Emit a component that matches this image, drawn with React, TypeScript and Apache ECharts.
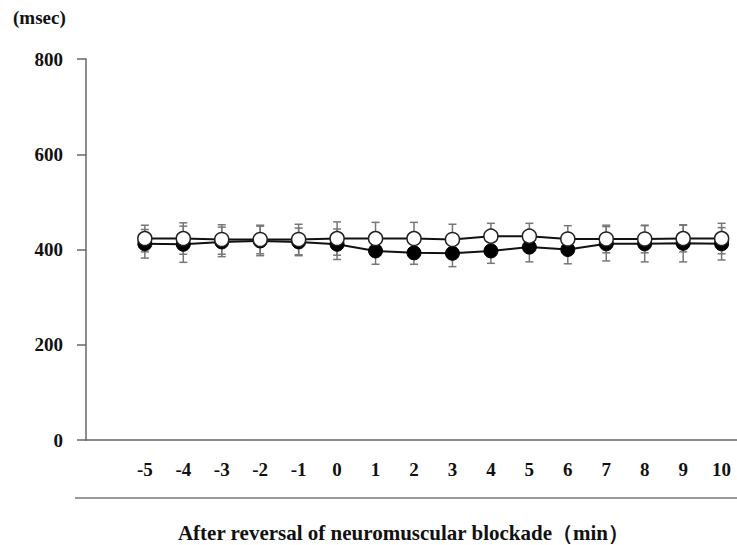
import React, { useEffect, useRef } from "react";
import * as echarts from "echarts";

const minutes = [-5, -4, -3, -2, -1, 0, 1, 2, 3, 4, 5, 6, 7, 8, 9, 10];
const openMean = [423, 423, 421, 421, 421, 423, 423, 423, 421, 428, 428, 422, 422, 422, 423, 423];
const openErr = [28, 33, 31, 30, 32, 35, 34, 34, 32, 27, 27, 28, 29, 29, 28, 32];
const filledMean = [412, 411, 416, 418, 416, 411, 397, 393, 392, 397, 405, 400, 412, 412, 413, 412];
const filledErr = [30, 38, 31, 31, 29, 32, 28, 24, 28, 26, 31, 30, 36, 38, 39, 34];
const yTicks = [0, 200, 400, 600, 800];

const FONT = "'Liberation Serif', 'Times New Roman', serif";

function errSeries(mean: number[], err: number[]) {
  return {
    type: "custom",
    z: 1,
    silent: true,
    data: minutes.map((m, i) => [m, mean[i], err[i]]),
    encode: { x: 0, y: 1 },
    renderItem: (params: any, api: any) => {
      const x = api.value(0);
      const v = api.value(1);
      const e = api.value(2);
      const top = api.coord([x, v + e]);
      const bot = api.coord([x, v - e]);
      const cw = 4;
      const style = { stroke: "#777", lineWidth: 1.5 };
      return {
        type: "group",
        children: [
          { type: "line", shape: { x1: top[0], y1: top[1], x2: bot[0], y2: bot[1] }, style },
          { type: "line", shape: { x1: top[0] - cw, y1: top[1], x2: top[0] + cw, y2: top[1] }, style },
          { type: "line", shape: { x1: bot[0] - cw, y1: bot[1], x2: bot[0] + cw, y2: bot[1] }, style },
        ],
      };
    },
  };
}

export default function App() {
  const ref = useRef<HTMLDivElement>(null);
  useEffect(() => {
    if (!ref.current) return;
    const chart = echarts.init(ref.current, undefined, { renderer: "svg" });
    chart.setOption({
      animation: false,
      backgroundColor: "#fff",
      grid: { left: 86, right: 0, top: 59, bottom: 105, outerBoundsMode: "none", containLabel: false },
      xAxis: {
        type: "value",
        min: -6.53,
        max: 10.4,
        name: "After reversal of neuromuscular blockade（min）",
        nameLocation: "middle",
        nameGap: 82,
        nameTextStyle: { fontFamily: FONT, fontWeight: "bold", fontSize: 21, color: "#111", padding: [0, 16, 0, 0] },
        axisLine: { onZero: false, lineStyle: { color: "#666", width: 1.5 } },
        axisTick: { show: false },
        splitLine: { show: false },
        axisLabel: {
          customValues: minutes,
          margin: 20,
          fontFamily: FONT,
          fontWeight: "bold",
          fontSize: 19,
          color: "#111",
        },
      },
      yAxis: {
        type: "value",
        min: 0,
        max: 800,
        interval: 200,
        axisLine: { show: true, onZero: false, lineStyle: { color: "#666", width: 1.5 } },
        axisTick: { show: true, length: 9, lineStyle: { color: "#666", width: 1.5 } },
        splitLine: { show: false },
        axisLabel: {
          customValues: yTicks,
          margin: 23,
          fontFamily: FONT,
          fontWeight: "bold",
          fontSize: 19,
          color: "#111",
        },
      },
      graphic: [
        {
          type: "text",
          left: 13,
          top: 8,
          style: { text: "(msec)", fontFamily: FONT, fontWeight: "bold", fontSize: 19, fill: "#111" },
        },
        {
          type: "line",
          shape: { x1: 75, y1: 498, x2: 737, y2: 498 },
          style: { stroke: "#777", lineWidth: 1.5 },
        },
      ],
      series: [
        errSeries(filledMean, filledErr),
        errSeries(openMean, openErr),
        {
          type: "line",
          z: 2,
          data: minutes.map((m, i) => [m, filledMean[i]]),
          symbol: "circle",
          symbolSize: 14,
          lineStyle: { color: "#111", width: 2 },
          itemStyle: { color: "#000", borderColor: "#000", borderWidth: 1 },
        },
        {
          type: "line",
          z: 3,
          data: minutes.map((m, i) => [m, openMean[i]]),
          symbol: "circle",
          symbolSize: 14,
          lineStyle: { color: "#111", width: 2 },
          itemStyle: { color: "#fff", borderColor: "#222", borderWidth: 1.5 },
        },
      ],
    });
    return () => chart.dispose();
  }, []);
  return (
    <div
      ref={ref}
      style={{ position: "fixed", left: 0, top: 0, width: 737, height: 545, background: "#fff" }}
    />
  );
}
